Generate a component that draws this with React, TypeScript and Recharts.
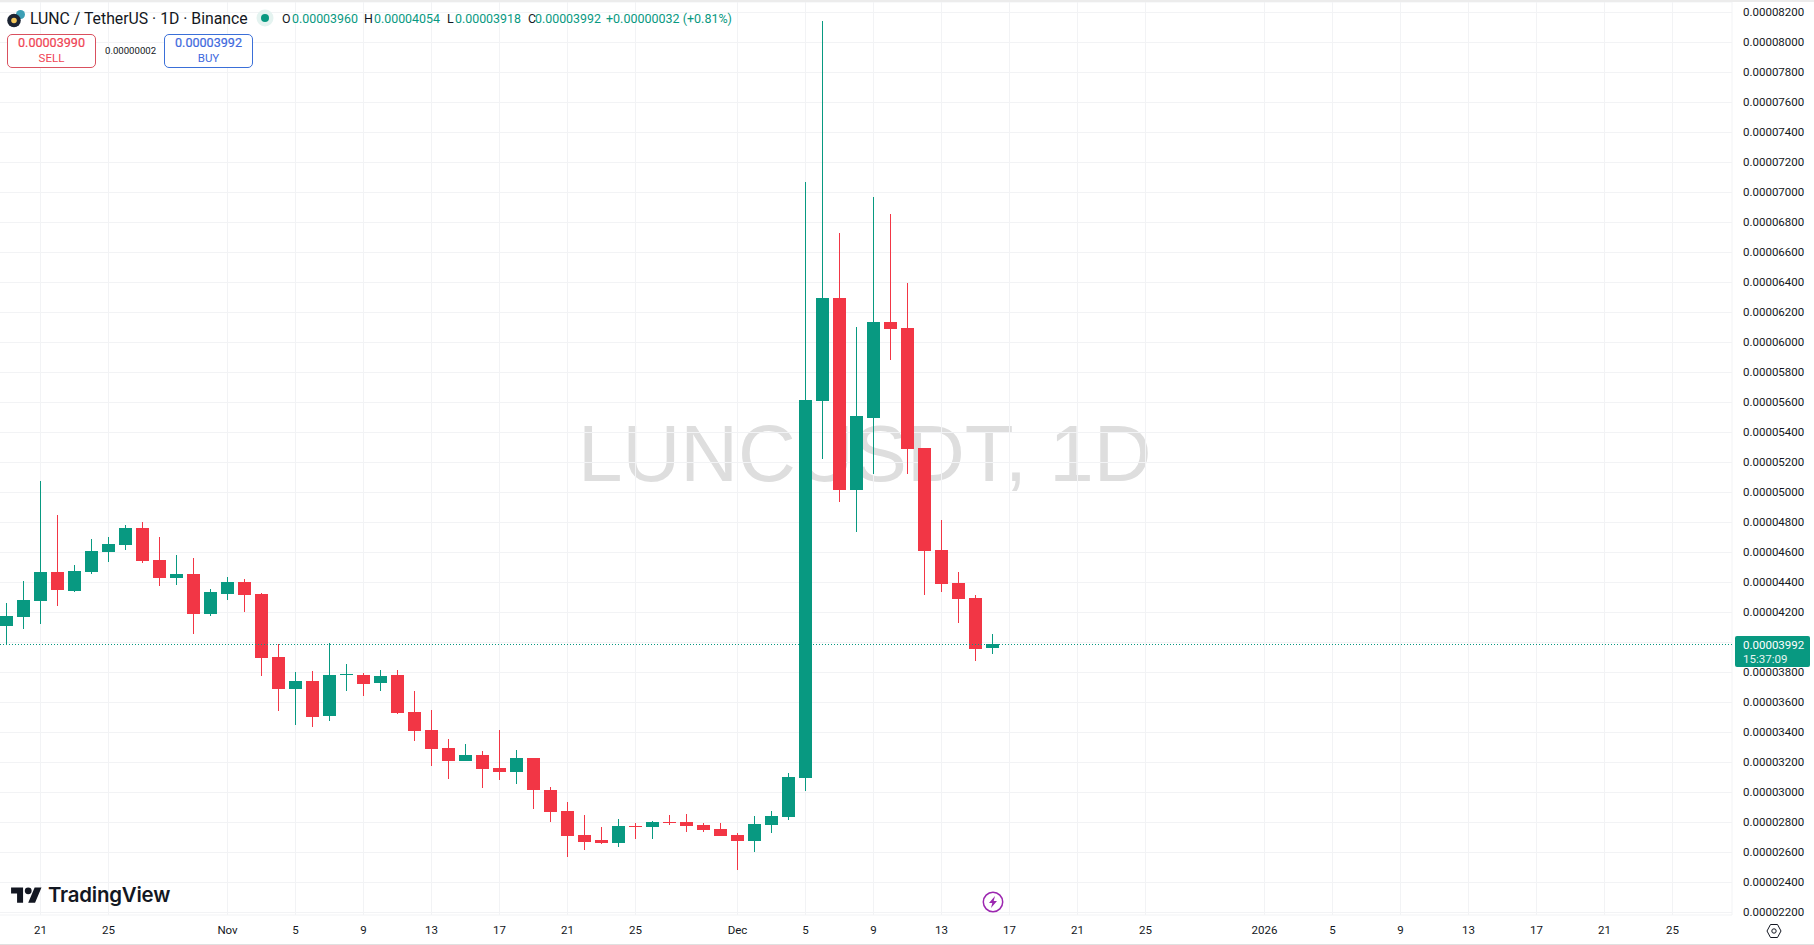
import React from "react";
import { ComposedChart, Bar, XAxis, YAxis, CartesianGrid, ReferenceLine } from "recharts";

// Prices are expressed in units of 0.00000001
const PRICE_UNIT = 1e-8;

const dates = [
  "Oct 19","Oct 20","Oct 21","Oct 22","Oct 23","Oct 24","Oct 25","Oct 26","Oct 27","Oct 28","Oct 29","Oct 30","Oct 31",
  "Nov 1","Nov 2","Nov 3","Nov 4","Nov 5","Nov 6","Nov 7","Nov 8","Nov 9","Nov 10","Nov 11","Nov 12","Nov 13","Nov 14","Nov 15",
  "Nov 16","Nov 17","Nov 18","Nov 19","Nov 20","Nov 21","Nov 22","Nov 23","Nov 24","Nov 25","Nov 26","Nov 27","Nov 28","Nov 29","Nov 30",
  "Dec 1","Dec 2","Dec 3","Dec 4","Dec 5","Dec 6","Dec 7","Dec 8","Dec 9","Dec 10","Dec 11","Dec 12","Dec 13","Dec 14","Dec 15","Dec 16",
];
const opens = [
  4112,4172,4277,4470,4343,4470,4603,4650,4763,4550,4430,4457,4190,
  4323,4403,4323,3903,3690,3743,3510,3783,3783,3730,3783,3537,3417,3297,3210,
  3250,3163,3137,3230,3017,2877,2717,2683,2663,2777,2770,2803,2803,2783,2757,
  2717,2677,2783,2837,3097,5612,6297,5017,5497,6137,6097,5297,4617,4397,4297,3960,
];
const highs = [
  4261,4410,5077,4850,4517,4690,4703,4783,4803,4703,4583,4563,4357,
  4437,4423,4330,3990,3803,3810,3997,3857,3797,3817,3817,3677,3550,3357,3323,
  3277,3417,3283,3230,3037,2937,2850,2770,2823,2797,2810,2850,2857,2797,2797,
  2730,2843,2877,3130,7070,8143,6730,6103,6970,6857,6397,5297,4817,4470,4317,4054,
];
const lows = [
  3990,4090,4123,4243,4337,4457,4537,4617,4530,4377,4383,4057,4177,
  4283,4203,3777,3543,3450,3437,3477,3677,3643,3677,3523,3343,3177,3090,3210,
  3030,3083,3057,2890,2803,2570,2617,2657,2637,2690,2690,2783,2737,2737,2710,
  2483,2603,2730,2817,3010,5223,4937,4737,5123,5883,5123,4317,4337,4130,3877,3918,
];
const closes = [
  4177,4283,4470,4350,4477,4610,4657,4763,4543,4430,4457,4190,4337,
  4403,4317,3897,3690,3743,3503,3783,3790,3723,3777,3530,3410,3290,3210,3250,
  3157,3137,3230,3017,2870,2710,2670,2663,2777,2770,2803,2797,2777,2750,2710,
  2677,2790,2843,3103,5617,6297,5017,5510,6137,6090,5290,4610,4390,4290,3957,3992,
];
const futureDates = [
  "Dec 17","Dec 18","Dec 19","Dec 20","Dec 21","Dec 22","Dec 23","Dec 24","Dec 25","Dec 26","Dec 27","Dec 28","Dec 29","Dec 30","Dec 31",
  "Jan 1","Jan 2","Jan 3","Jan 4","Jan 5","Jan 6","Jan 7","Jan 8","Jan 9","Jan 10","Jan 11","Jan 12","Jan 13","Jan 14",
  "Jan 15","Jan 16","Jan 17","Jan 18","Jan 19","Jan 20","Jan 21","Jan 22","Jan 23","Jan 24","Jan 25","Jan 26","Jan 27","Jan 28",
];
const timeTicks = [
  "Oct 21","Oct 25","Nov 1","Nov 5","Nov 9","Nov 13","Nov 17","Nov 21","Nov 25",
  "Dec 1","Dec 5","Dec 9","Dec 13","Dec 17","Dec 21","Dec 25",
  "Jan 1","Jan 5","Jan 9","Jan 13","Jan 17","Jan 21","Jan 25",
];
const priceTicks = [
  2200,2400,2600,2800,3000,3200,3400,3600,3800,4000,4200,4400,4600,4800,5000,5200,
  5400,5600,5800,6000,6200,6400,6600,6800,7000,7200,7400,7600,7800,8000,8200,
];
const LAST_PRICE = 3992;
// The last-price badge covers this tick label, as it does on the reference
const HIDDEN_TICK_LABEL = 4000;

const ohlcLabels = [
  { key: "O", value: "0.00003960", lx: 282, vx: 292 },
  { key: "H", value: "0.00004054", lx: 364, vx: 374 },
  { key: "L", value: "0.00003918", lx: 447, vx: 455 },
  { key: "C", value: "0.00003992", lx: 528, vx: 535 },
];

const UP = "#089981";
const DOWN = "#F23645";
const FONT = "Roboto, sans-serif";

const rows = [
  ...dates.map((date, i) => ({
    date,
    open: opens[i] * PRICE_UNIT,
    high: highs[i] * PRICE_UNIT,
    low: lows[i] * PRICE_UNIT,
    close: closes[i] * PRICE_UNIT,
    range: [lows[i] * PRICE_UNIT, highs[i] * PRICE_UNIT],
  })),
  ...futureDates.map((date) => ({ date })),
];

function Candle(props: any) {
  const { x, y, width, height, payload } = props;
  if (!payload || payload.high == null) return null;
  const top = Math.min(y, y + height);
  const h = Math.abs(height);
  const pxPerPrice = h / (payload.high - payload.low);
  const color = payload.close >= payload.open ? UP : DOWN;
  const toY = (v: number) => top + (payload.high - v) * pxPerPrice;
  const bodyTop = Math.round(toY(Math.max(payload.open, payload.close)));
  const bodyBot = Math.round(toY(Math.min(payload.open, payload.close)));
  const wickX = Math.round(x + width / 2 - 0.5);
  return (
    <g shapeRendering="crispEdges">
      <rect x={wickX} y={Math.round(top)} width={1} height={Math.round(h)} fill={color} />
      <rect x={Math.round(x)} y={bodyTop} width={Math.round(width)} height={Math.max(1, bodyBot - bodyTop)} fill={color} />
    </g>
  );
}

function LastPriceLine(props: any) {
  const yy = Math.round(props.y1 ?? props.y) + 0.5;
  return <line x1={props.x1} x2={props.x2 - 1} y1={yy} y2={yy} stroke={UP} strokeWidth={1} strokeDasharray="1 2" />;
}

function timeLabel(d: string) {
  const [mon, day] = d.split(" ");
  if (day !== "1") return day;
  return mon === "Jan" ? "2026" : mon;
}

function PriceTick(props: any) {
  const { x, y, payload } = props;
  if (Math.round(payload.value / PRICE_UNIT) === HIDDEN_TICK_LABEL) return null;
  return (
    <text
      x={x}
      y={y}
      dy={3.5}
      textAnchor="start"
      fill="#131722"
      fontSize={11.5}
      fontFamily={FONT}
      clipPath="url(#priceClip)"
    >
      {Number(payload.value).toFixed(8)}
    </text>
  );
}

const abs = (l: number, t: number, extra: React.CSSProperties = {}): React.CSSProperties => ({
  position: "absolute",
  left: l,
  top: t,
  whiteSpace: "nowrap",
  fontFamily: FONT,
  ...extra,
});

function QuoteBox({ left, color, text, price, label }: { left: number; color: string; text: string; price: string; label: string }) {
  return (
    <div
      style={abs(left, 34, {
        width: 89,
        height: 34,
        border: `1px solid ${color}`,
        borderRadius: 5,
        boxSizing: "border-box",
        background: "#fff",
        color: text,
        textAlign: "center",
      })}
    >
      <div style={{ fontSize: 12.6, lineHeight: "14px", marginTop: 1, WebkitTextStroke: "0.2px" }}>{price}</div>
      <div style={{ fontSize: 11.5, lineHeight: "12px", marginTop: 2 }}>{label}</div>
    </div>
  );
}

export default function App() {
  return (
    <div style={{ position: "fixed", left: 0, top: 0, width: 1814, height: 945, background: "#fff", overflow: "hidden" }}>
      {/* watermark sits behind the transparent chart */}
      <div style={abs(578, 408, { fontFamily: "'Liberation Sans', Arial, sans-serif", fontSize: 80, lineHeight: "92px", color: "#dedede" })}>
        LUNCUSDT, 1D
      </div>

      <div style={{ position: "absolute", left: -2, top: 0 }}>
        <ComposedChart
          width={1816}
          height={945}
          data={rows}
          margin={{ top: 2, right: 0, bottom: 0, left: 0 }}
          barCategoryGap={0}
        >
          <defs>
            <clipPath id="priceClip">
              <rect x={1720} y={0} width={100} height={916} />
            </clipPath>
          </defs>
          <CartesianGrid stroke="#f2f3f5" strokeWidth={1} />
          <XAxis
            dataKey="date"
            type="category"
            ticks={timeTicks}
            interval={0}
            tickFormatter={timeLabel}
            axisLine={false}
            tickLine={false}
            height={30}
            tickMargin={5}
            tick={{ fill: "#131722", fontSize: 11.5, fontFamily: FONT }}
          />
          <YAxis
            orientation="right"
            type="number"
            width={82}
            domain={[2183.3333 * PRICE_UNIT, 8270 * PRICE_UNIT]}
            allowDataOverflow
            ticks={priceTicks.map((v) => v * PRICE_UNIT)}
            interval={0}
            axisLine={false}
            tickLine={false}
            tickMargin={5}
            tick={<PriceTick />}
          />
          <Bar dataKey="range" barSize={13} shape={<Candle />} isAnimationActive={false} />
          <ReferenceLine y={LAST_PRICE * PRICE_UNIT} shape={<LastPriceLine />} />
        </ComposedChart>
      </div>

      {/* window edges */}
      <div style={{ position: "absolute", left: 0, top: 0, width: 1814, height: 2, background: "#ececec" }} />
      <div style={{ position: "absolute", left: 0, top: 944, width: 1814, height: 1, background: "#e0e0e0" }} />

      {/* symbol legend */}
      <svg style={{ position: "absolute", left: 6, top: 9 }} width={20} height={20} viewBox="0 0 20 20">
        <circle cx={14.5} cy={5.5} r={4.5} fill="#3c9fb5" />
        <circle cx={8} cy={11.5} r={6.8} fill="#1c2433" />
        <circle cx={8} cy={11.5} r={2.8} fill="#f5c85a" />
      </svg>
      <div style={abs(30, 10, { fontSize: 15.8, lineHeight: "18px", color: "#131722" })}>LUNC / TetherUS · 1D · Binance</div>
      <svg style={{ position: "absolute", left: 256, top: 9 }} width={18} height={18}>
        <circle cx={9} cy={9} r={8.5} fill="#e4f3f0" />
        <circle cx={9} cy={9} r={4} fill={UP} />
      </svg>
      {ohlcLabels.map((o) => (
        <React.Fragment key={o.key}>
          <div style={abs(o.lx, 11, { fontSize: 12.4, lineHeight: "16px", color: "#131722" })}>{o.key}</div>
          <div style={abs(o.vx, 11, { fontSize: 12.4, lineHeight: "16px", color: UP })}>{o.value}</div>
        </React.Fragment>
      ))}
      <div style={abs(606, 11, { fontSize: 12.5, lineHeight: "16px", color: UP })}>+0.00000032 (+0.81%)</div>

      <QuoteBox left={7} color="#d9505e" text="#ef4454" price="0.00003990" label="SELL" />
      <div style={abs(105, 45, { fontSize: 9.6, lineHeight: "12px", color: "#131722" })}>0.00000002</div>
      <QuoteBox left={164} color="#3a6fd8" text="#3f6ade" price="0.00003992" label="BUY" />

      {/* last-price badge */}
      <div
        style={abs(1735, 636, {
          width: 75,
          height: 31,
          background: UP,
          borderRadius: 2,
          color: "#fff",
          fontSize: 11.5,
          lineHeight: "14px",
          paddingLeft: 8,
          boxSizing: "border-box",
          paddingTop: 2,
        })}
      >
        <div>0.00003992</div>
        <div style={{ opacity: 0.9 }}>15:37:09</div>
      </div>

      {/* TradingView mark */}
      <svg style={{ position: "absolute", left: 11, top: 883.5 }} width={31} height={24} viewBox="0 0 36 28">
        <path d="M14 22H7V11H0V4h14v18zM28 22h-8l7.5-18h8L28 22z" fill="#131722" />
        <circle cx={20} cy={8} r={4} fill="#131722" />
      </svg>
      <div style={abs(48, 881, { fontFamily: "Inter, sans-serif", fontSize: 20.4, fontWeight: 600, lineHeight: "28px", color: "#131722", letterSpacing: -0.2 })}>
        TradingView
      </div>

      {/* lightning marker */}
      <svg style={{ position: "absolute", left: 981.5, top: 891 }} width={22} height={22} viewBox="0 0 22 22">
        <circle cx={11} cy={11} r={9.7} fill="#fff" stroke="#9c27b0" strokeWidth={1.5} />
        <path d="M13 5 7 12H10.3L9 17 15 10H11.7Z" fill="#9c27b0" />
      </svg>

      {/* settings icon */}
      <svg style={{ position: "absolute", left: 1766, top: 923 }} width={16} height={16} viewBox="0 0 16 16">
        <path d="M4.5 1.5h7L15 8l-3.5 6.5h-7L1 8Z" fill="none" stroke="#131722" strokeWidth={1} />
        <circle cx={8} cy={8} r={2.2} fill="none" stroke="#131722" strokeWidth={1} />
      </svg>
    </div>
  );
}
